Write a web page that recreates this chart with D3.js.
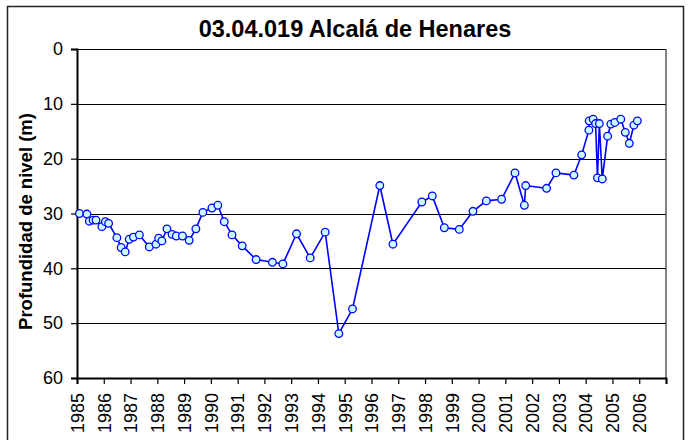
<!DOCTYPE html>
<html>
<head>
<meta charset="utf-8">
<script src="https://cdn.jsdelivr.net/npm/d3@7"></script>
<style>
  body { margin: 0; background: #fff; }
  svg { display: block; font-family: "Liberation Sans", Arial, sans-serif; }
</style>
</head>
<body>
<div id="chart"></div>
<script>
var width = 692;
var height = 440;

var title = "03.04.019 Alcalá de Henares";
var yTitle = "Profundidad de nivel (m)";

// fecha (año decimal) y profundidad (m)
var dates = [1985.09, 1985.37, 1985.46, 1985.60, 1985.71, 1985.93, 1986.06, 1986.18,
  1986.49, 1986.65, 1986.80, 1986.95, 1987.11, 1987.33, 1987.70, 1987.95, 1988.05,
  1988.17, 1988.36, 1988.55, 1988.71, 1988.94, 1989.19, 1989.44, 1989.70, 1990.04,
  1990.26, 1990.50, 1990.79, 1991.17, 1991.69, 1992.30, 1992.69, 1993.20, 1993.71,
  1994.27, 1994.78, 1995.29, 1996.31, 1996.80, 1997.88, 1998.27, 1998.72, 1999.28,
  1999.79, 2000.29, 2000.86, 2001.36, 2001.71, 2001.76, 2002.54, 2002.89, 2003.56,
  2003.85, 2004.12, 2004.13, 2004.28, 2004.37, 2004.44, 2004.51, 2004.62, 2004.82,
  2004.94, 2005.09, 2005.31, 2005.48, 2005.63, 2005.80, 2005.93];
var depths = [30.0, 30.1, 31.4, 31.2, 31.2, 32.4, 31.5, 31.8,
  34.4, 36.2, 37.0, 34.7, 34.3, 33.9, 36.1, 35.6, 34.5,
  35.0, 32.8, 33.8, 34.1, 34.1, 34.9, 32.8, 29.8, 29.0,
  28.5, 31.5, 33.9, 35.9, 38.4, 38.9, 39.2, 33.7, 38.1,
  33.4, 51.9, 47.4, 24.9, 35.6, 27.9, 26.8, 32.6, 32.9,
  29.6, 27.7, 27.4, 22.6, 28.5, 24.9, 25.4, 22.6, 23.0,
  19.3, 14.8, 13.1, 12.8, 13.6, 23.5, 13.6, 23.7, 15.9,
  13.7, 13.4, 12.8, 15.2, 17.2, 13.9, 13.1];

var yTicks = [0, 10, 20, 30, 40, 50, 60];
var xTicks = d3.range(1985, 2008);
var xLabels = d3.range(1985, 2007);

var points = dates.map((d, i) => ({year: d, depth: depths[i]}));

var margin = {top: 49, right: 26, bottom: 62, left: 77};

var svg = d3.select("#chart").append("svg")
    .attr("width", width)
    .attr("height", height);

svg.append("rect")
    .attr("x", 7.5).attr("y", 6.5)
    .attr("width", 676).attr("height", 440)
    .attr("fill", "#fff")
    .attr("stroke", "#222")
    .attr("stroke-width", 1.5);

var x = d3.scaleLinear()
    .domain([1985, 2007])
    .range([margin.left, width - margin.right]);

var y = d3.scaleLinear()
    .domain([0, 60])
    .range([margin.top, height - margin.bottom]);

// gridlines
svg.append("g")
  .selectAll("line")
  .data(yTicks)
  .join("line")
    .attr("x1", x(1985)).attr("x2", x(2007))
    .attr("y1", d => Math.round(y(d)) + 0.5)
    .attr("y2", d => Math.round(y(d)) + 0.5)
    .attr("stroke", "#000")
    .attr("stroke-width", 1.2);

// right edge of plot area
svg.append("line")
    .attr("x1", x(2007)).attr("x2", x(2007))
    .attr("y1", y(0)).attr("y2", y(60))
    .attr("stroke", "#333")
    .attr("stroke-width", 1.2);

var yAxis = svg.append("g")
    .attr("transform", `translate(${x(1985)},0)`)
    .call(d3.axisLeft(y).tickValues(yTicks).tickSize(6).tickPadding(8));

var xAxis = svg.append("g")
    .attr("transform", `translate(0,${y(60)})`)
    .call(d3.axisBottom(x).tickValues(xTicks).tickSize(6)
      .tickFormat(d => xLabels.includes(d) ? d : ""));

[yAxis, xAxis].forEach(g => {
  g.select(".domain").attr("stroke", "#000").attr("stroke-width", 2);
  g.selectAll(".tick line").attr("stroke", "#000").attr("stroke-width", 1.2);
  g.selectAll("text")
    .attr("fill", "#000")
    .style("font-size", "18px")
    .style("font-family", "'Liberation Sans', Arial, sans-serif");
});

xAxis.selectAll("text")
    .attr("transform", "rotate(-90)")
    .attr("text-anchor", "end")
    .attr("x", -15)
    .attr("y", 0)
    .attr("dy", "0.35em");

// series
var line = d3.line()
    .x(d => x(d.year))
    .y(d => y(d.depth));

svg.append("path")
    .datum(points)
    .attr("fill", "none")
    .attr("stroke", "#0000ff")
    .attr("stroke-width", 1.6)
    .attr("d", line);

svg.append("g")
  .selectAll("circle")
  .data(points)
  .join("circle")
    .attr("cx", d => x(d.year))
    .attr("cy", d => y(d.depth))
    .attr("r", 3.8)
    .attr("fill", "#ccffff")
    .attr("stroke", "#0000ff")
    .attr("stroke-width", 1.3);

// titles
svg.append("text")
    .attr("x", 355)
    .attr("y", 37)
    .attr("text-anchor", "middle")
    .style("font-size", "23.5px")
    .style("font-weight", "bold")
    .text(title);

svg.append("text")
    .attr("transform", `translate(32,${(y(0) + y(60)) / 2 + 8}) rotate(-90)`)
    .attr("text-anchor", "middle")
    .style("font-size", "18.5px")
    .style("font-weight", "bold")
    .text(yTitle);
</script>
</body>
</html>
